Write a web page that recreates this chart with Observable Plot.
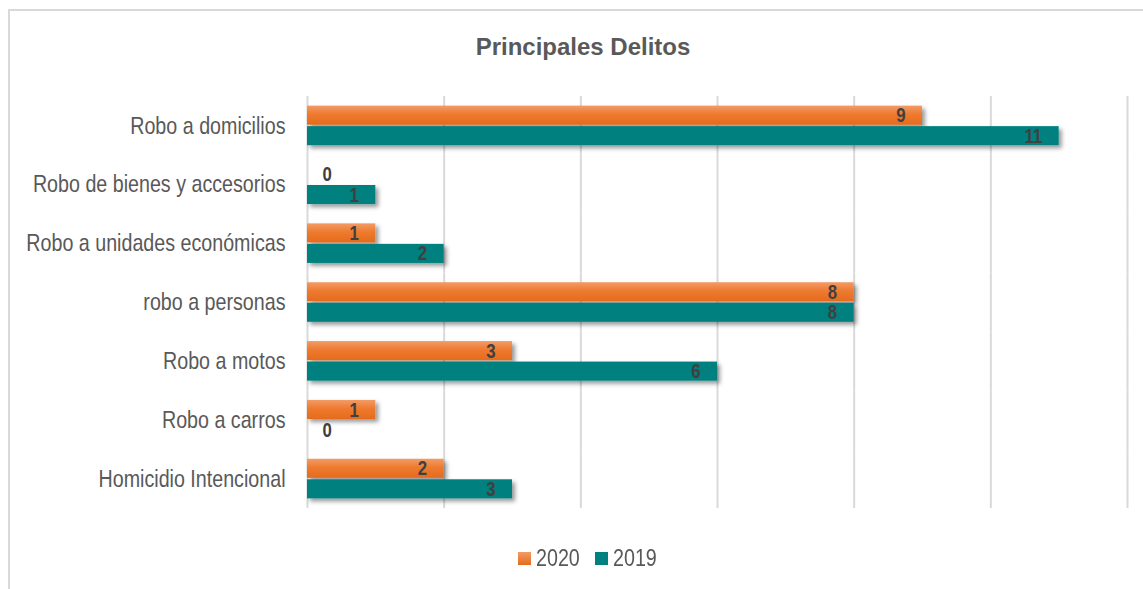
<!DOCTYPE html>
<html>
<head>
<meta charset="utf-8">
<script src="https://cdn.jsdelivr.net/npm/d3@7"></script>
<script src="https://cdn.jsdelivr.net/npm/@observablehq/plot@0.6"></script>
<style>
  html, body { margin: 0; padding: 0; background: #fff; }
  #wrap { position: relative; width: 1143px; height: 589px; overflow: hidden; background: #fff; }
  #frame { position: absolute; left: 8px; top: 9px; width: 1200px; height: 700px; border-left: 2px solid #d9d9d9; border-top: 2px solid #d9d9d9; }
  #title { position: absolute; left: 0; top: 35px; width: 1166px; text-align: center; font-family: "Liberation Sans", Arial, sans-serif; font-weight: bold; font-size: 24px; color: #595959; line-height: 1; }
  #chart { position: absolute; left: 0; top: 0; }
  #legend { position: absolute; left: 0; top: 545px; width: 1143px; height: 26px; font-family: "Liberation Sans", Arial, sans-serif; font-size: 24px; color: #595959; }
  .item { position: absolute; top: 0; display: flex; align-items: center; height: 26px; }
  .sw { width: 13px; height: 13px; margin-right: 5px; flex: none; }
  .lab { display: inline-block; transform: scaleX(0.82); transform-origin: left center; white-space: nowrap; }
</style>
</head>
<body>
<div id="wrap">
  <div id="frame"></div>
  <div id="title">Principales Delitos</div>
  <div id="chart"></div>
  <div id="legend"></div>
</div>
<script>
const categories = ["Robo a domicilios", "Robo de bienes y accesorios", "Robo a unidades económicas", "robo a personas", "Robo a motos", "Robo a carros", "Homicidio Intencional"];
const values2020 = [9, 0, 1, 8, 3, 1, 2];
const values2019 = [11, 1, 2, 8, 6, 0, 3];
const years = ["2020", "2019"];
const xTicks = [0, 2, 4, 6, 8, 10, 12];
const colors = {"2020": "#ED7D31", "2019": "#00807F"};

const rows = categories.flatMap((c, i) => [
  {crime: c, year: "2020", value: values2020[i]},
  {crime: c, year: "2019", value: values2019[i]}
]);

const font = "'Liberation Sans', Arial, sans-serif";

const svg = Plot.plot({
  width: 1143,
  height: 520,
  marginTop: 96,
  marginBottom: 12,
  marginLeft: 307,
  marginRight: 16,
  style: {fontFamily: font, fontSize: "24px", color: "#595959", background: "transparent", overflow: "visible"},
  facet: {data: rows, y: "crime"},
  x: {domain: [0, 12], axis: null},
  y: {domain: years, axis: null, paddingInner: 0.07, paddingOuter: 0.47, round: false},
  fy: {domain: categories, padding: 0, round: false, axis: "left", label: null, tickSize: 0, tickPadding: 22},
  marks: [
    Plot.ruleX(xTicks, {stroke: "#d9d9d9", strokeWidth: 2, strokeOpacity: 1}),
    Plot.barX(rows, {filter: d => d.year === "2020", x: "value", y: "year", fill: colors["2020"], ariaDescription: "b2020"}),
    Plot.barX(rows, {filter: d => d.year === "2019", x: "value", y: "year", fill: colors["2019"], ariaDescription: "b2019"}),
    Plot.text(rows, {filter: d => d.value > 0, x: "value", y: "year", text: d => String(d.value), textAnchor: "end", dx: -17, fill: "#404040", fontWeight: "bold", fontSize: 20.5, fontFamily: font, ariaDescription: "lab"}),
    Plot.text(rows, {filter: d => d.value === 0, x: "value", y: "year", text: d => String(d.value), textAnchor: "start", dx: 15, fill: "#404040", fontWeight: "bold", fontSize: 20.5, fontFamily: font, ariaDescription: "lab"})
  ]
});

// defs: gradient for orange bars and a drop shadow
const defs = d3.select(svg).insert("defs", ":first-child");
const grad = defs.append("linearGradient").attr("id", "gO").attr("x1", 0).attr("y1", 0).attr("x2", 0).attr("y2", 1);
grad.append("stop").attr("offset", 0).attr("stop-color", "#F39B66");
grad.append("stop").attr("offset", 0.45).attr("stop-color", "#EE7A30");
grad.append("stop").attr("offset", 1).attr("stop-color", "#E56B1C");
const f = defs.append("filter").attr("id", "sh").attr("filterUnits", "userSpaceOnUse")
  .attr("x", -50).attr("y", -200).attr("width", 1300).attr("height", 900);
f.append("feDropShadow").attr("dx", 3).attr("dy", 3).attr("stdDeviation", 2)
  .attr("flood-color", "#000").attr("flood-opacity", 0.4);

d3.select(svg).selectAll('[aria-description="b2020"] rect').attr("fill", "url(#gO)").attr("filter", "url(#sh)");
d3.select(svg).selectAll('[aria-description="b2019"] rect').attr("filter", "url(#sh)");

// condense all SVG texts horizontally (narrow face look), keeping their anchor point
d3.select(svg).selectAll("text").each(function() {
  const t = this.getAttribute("transform") || "";
  const xa = this.getAttribute("x");
  let pre = t;
  if (xa != null && xa !== "" && !isNaN(+xa)) {
    pre += ` translate(${+xa},0)`;
    this.removeAttribute("x");
  }
  this.setAttribute("transform", `${pre} scale(0.82,1)`.trim());
});

document.getElementById("chart").appendChild(svg);

// legend
const legend = d3.select("#legend");
const legendPos = {"2020": 518, "2019": 595};
years.forEach(y => {
  const it = legend.append("div").attr("class", "item").style("left", legendPos[y] + "px");
  it.append("div").attr("class", "sw").style("background", y === "2020" ? "linear-gradient(#F39B66, #E56B1C)" : colors[y]);
  it.append("span").attr("class", "lab").text(y);
});
</script>
</body>
</html>
